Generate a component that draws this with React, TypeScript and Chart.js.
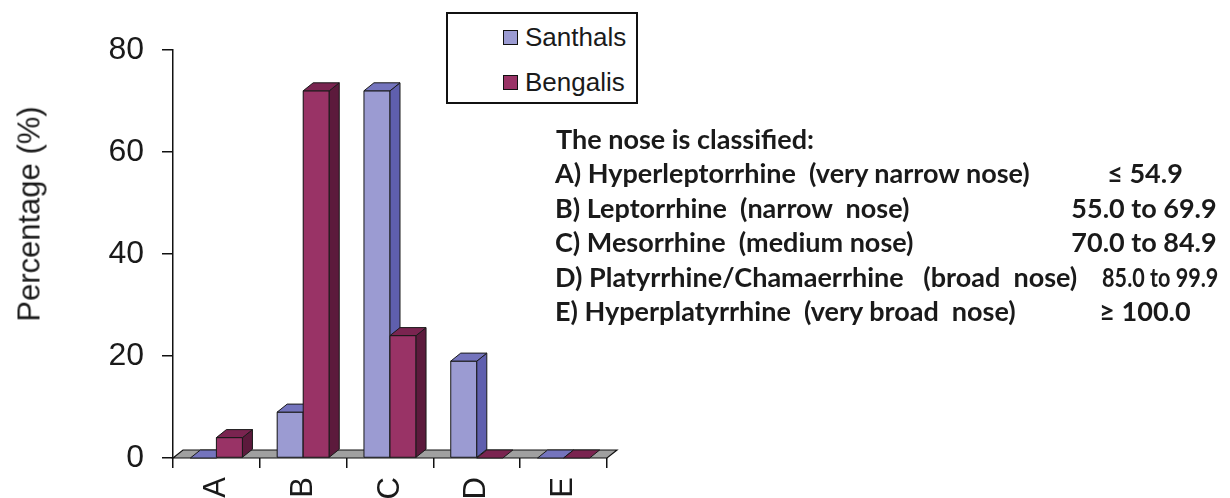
import React, { useEffect, useRef } from "react";
import { Chart, registerables } from "chart.js";

Chart.register(...registerables);

// ---- data ----
const categories = ["A", "B", "C", "D", "E"];
const seriesNames = ["Santhals", "Bengalis"];
const santhals = [0, 9, 72, 19, 0];
const bengalis = [4, 72, 24, 0, 0];
const yTicks = [0, 20, 40, 60, 80];
const yTitle = "Percentage (%)";

const noteTitle = "The nose is classified:";
const noteLabels = [
  "A) Hyperleptorrhine  (very narrow nose)",
  "B) Leptorrhine  (narrow  nose)",
  "C) Mesorrhine  (medium nose)",
  "D) Platyrrhine/Chamaerrhine   (broad  nose)",
  "E) Hyperplatyrrhine  (very broad  nose)",
];
const noteRanges = ["\u2264 54.9", "55.0 to 69.9", "70.0 to 84.9", "85.0 to 99.9", "\u2265 100.0"];

// ---- styles ----
const COLORS = [
  { front: "#9b9bd2", side: "#5f5fae", top: "#7474bd" },
  { front: "#993366", side: "#5c1a3c", top: "#7a2450" },
];
const EDGE = "#1a1a1a";
const DX = 10;
const DY = -8;
const AXIS_FONT = "Liberation Sans, Arial, sans-serif";
const NOTE_FONT = "Lato, 'Open Sans', sans-serif";

const bar3d = {
  id: "bar3d",
  beforeDatasetsDraw(chart: any) {
    const { ctx, chartArea } = chart;
    const l = chartArea.left;
    const r = chartArea.right;
    const b = chartArea.bottom;
    ctx.save();
    ctx.beginPath();
    ctx.moveTo(l, b);
    ctx.lineTo(r, b);
    ctx.lineTo(r + DX, b + DY);
    ctx.lineTo(l + DX, b + DY);
    ctx.closePath();
    ctx.fillStyle = "#a0a0a0";
    ctx.fill();
    ctx.lineWidth = 1.2;
    ctx.strokeStyle = "#111";
    ctx.stroke();
    ctx.restore();
  },
  afterDatasetsDraw(chart: any) {
    const ctx = chart.ctx;
    const metas = [chart.getDatasetMeta(0), chart.getDatasetMeta(1)];
    ctx.save();
    ctx.lineWidth = 1;
    ctx.strokeStyle = EDGE;
    ctx.lineJoin = "round";
    const poly = (pts: number[][], fill: string) => {
      ctx.beginPath();
      ctx.moveTo(pts[0][0], pts[0][1]);
      for (let k = 1; k < pts.length; k++) ctx.lineTo(pts[k][0], pts[k][1]);
      ctx.closePath();
      ctx.fillStyle = fill;
      ctx.fill();
      ctx.stroke();
    };
    for (let i = 0; i < categories.length; i++) {
      metas.forEach((meta: any, d: number) => {
        const el = meta.data[i];
        if (!el) return;
        const { x, y, base, width } = el.getProps(["x", "y", "base", "width"], true);
        const l = x - width / 2;
        const r = x + width / 2;
        const c = COLORS[d];
        if (base - y > 0.5) {
          poly([[l, y], [r, y], [r, base], [l, base]], c.front);
          poly([[r, y], [r + DX, y + DY], [r + DX, base + DY], [r, base]], c.side);
        }
        poly([[l, y], [l + DX, y + DY], [r + DX, y + DY], [r, y]], c.top);
      });
    }
    ctx.restore();
  },
};

export default function App() {
  const ref = useRef<HTMLCanvasElement | null>(null);

  useEffect(() => {
    if (!ref.current) return;
    const chart = new Chart(ref.current, {
      type: "bar",
      data: {
        labels: categories,
        datasets: [
          {
            label: seriesNames[0],
            data: santhals,
            backgroundColor: COLORS[0].front,
            borderColor: EDGE,
            borderWidth: 1,
            categoryPercentage: 0.6,
            barPercentage: 1,
          },
          {
            label: seriesNames[1],
            data: bengalis,
            backgroundColor: COLORS[1].front,
            borderColor: EDGE,
            borderWidth: 1,
            categoryPercentage: 0.6,
            barPercentage: 1,
          },
        ],
      },
      options: {
        responsive: false,
        maintainAspectRatio: false,
        animation: false,
        layout: { padding: { left: 0, top: 50, right: 623, bottom: 0 } },
        plugins: { legend: { display: false }, tooltip: { enabled: false } },
        scales: {
          x: {
            offset: true,
            grid: {
              display: true,
              offset: true,
              drawOnChartArea: false,
              drawTicks: true,
              tickLength: 10,
              color: "#111",
              lineWidth: 1.5,
            },
            border: { display: false },
            ticks: {
              minRotation: 90,
              maxRotation: 90,
              autoSkip: false,
              padding: 9,
              color: "#1a1a1a",
              font: { family: AXIS_FONT, size: 31 },
            },
            afterFit: (s: any) => {
              s.height = 40;
            },
          },
          y: {
            min: 0,
            max: 80,
            afterBuildTicks: (s: any) => {
              s.ticks = yTicks.map((v) => ({ value: v }));
            },
            grid: {
              drawOnChartArea: false,
              drawTicks: true,
              tickLength: 11,
              color: "#111",
              lineWidth: 1.5,
            },
            border: { display: true, color: "#111", width: 1.5 },
            ticks: {
              padding: 18,
              color: "#1a1a1a",
              font: { family: AXIS_FONT, size: 32 },
            },
            afterFit: (s: any) => {
              s.width = 173;
            },
          },
        },
      },
      plugins: [bar3d],
    });
    return () => chart.destroy();
  }, []);

  const noteBase = 150;
  const noteStep = 34.4;
  const lineStyle = (i: number): React.CSSProperties => ({
    position: "absolute",
    top: noteBase + noteStep * i - 28,
    height: 34,
    lineHeight: "34px",
    whiteSpace: "pre",
    fontFamily: NOTE_FONT,
    fontWeight: 700,
    fontSize: 27,
    color: "#1a1a1a",
  });
  const rangeAnchors: Array<{ align: "center" | "right"; x: number; sx: number }> = [
    { align: "center", x: 1145, sx: 1 },
    { align: "center", x: 1144, sx: 1 },
    { align: "center", x: 1144, sx: 1 },
    { align: "right", x: 1218, sx: 0.8 },
    { align: "center", x: 1145, sx: 1 },
  ];

  return (
    <div
      style={{
        position: "absolute",
        left: 0,
        top: 0,
        width: 1230,
        height: 498,
        overflow: "hidden",
        background: "#fff",
      }}
    >
      <canvas ref={ref} width={1230} height={498} style={{ position: "absolute", left: 0, top: 0, width: 1230, height: 498 }} />

      {/* y-axis title */}
      <div
        style={{
          position: "absolute",
          left: 29,
          top: 214,
          transform: "translate(-50%, -50%) rotate(-90deg)",
          whiteSpace: "nowrap",
          fontFamily: AXIS_FONT,
          fontSize: 31,
          lineHeight: "35px",
          color: "#1a1a1a",
        }}
      >
        {yTitle}
      </div>

      {/* legend */}
      <div
        style={{
          position: "absolute",
          left: 446,
          top: 12,
          width: 188,
          height: 88,
          border: "2px solid #111",
          background: "#fff",
        }}
      />
      {seriesNames.map((name, i) => (
        <div
          key={name}
          style={{
            position: "absolute",
            left: 503,
            top: 37 + 45 * i - 15,
            height: 30,
            display: "flex",
            alignItems: "center",
            fontFamily: AXIS_FONT,
            fontSize: 26,
            color: "#1a1a1a",
            whiteSpace: "nowrap",
          }}
        >
          <span
            style={{
              display: "inline-block",
              width: 13,
              height: 13,
              border: "1.5px solid #111",
              background: COLORS[i].front,
              marginRight: 7,
            }}
          />
          {name}
        </div>
      ))}

      {/* classification notes */}
      <div style={{ ...lineStyle(0), left: 556 }}>{noteTitle}</div>
      {noteLabels.map((t, i) => (
        <div key={t} style={{ ...lineStyle(i + 1), left: 555 }}>
          {t}
        </div>
      ))}
      {noteRanges.map((t, i) => {
        const a = rangeAnchors[i];
        const st: React.CSSProperties = { ...lineStyle(i + 1) };
        if (a.align === "center") {
          st.left = a.x;
          st.transform = `translateX(-50%) scaleX(${a.sx})`;
        } else {
          st.right = 1230 - a.x;
          st.transformOrigin = "right center";
          st.transform = `scaleX(${a.sx})`;
        }
        return (
          <div key={t} style={st}>
            {t}
          </div>
        );
      })}
    </div>
  );
}
